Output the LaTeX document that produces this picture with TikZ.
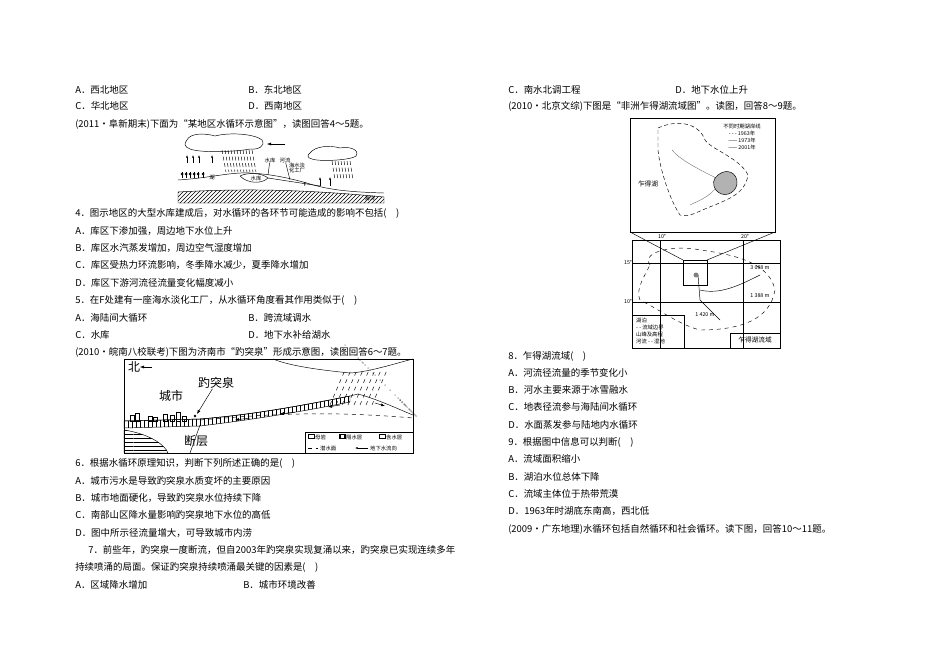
\documentclass[tikz,border=0pt]{standalone}
\usepackage{fontspec}
\setmainfont{Noto Sans CJK SC}
\usetikzlibrary{patterns,arrows.meta}
\begin{document}
\begin{tikzpicture}[x=0.75pt,y=-0.75pt,
 txt/.style={anchor=west,inner sep=0pt,font=\fontsize{7.1}{8}\selectfont},
 sm/.style={inner sep=0pt,font=\fontsize{4}{5}\selectfont},
 md/.style={inner sep=0pt,font=\fontsize{9}{10}\selectfont},
 fr/.style={draw,line width=0.6pt},
 thin/.style={line width=0.35pt}]
\useasboundingbox (0,0) rectangle (950,671);
\fill[white] (0,0) rectangle (950,671);
% left column
\node[txt] (l1a) at (75,90) {A．西北地区};
\node[txt] (l1b) at (248,90) {B．东北地区};
\node[txt] (l2a) at (75,106) {C．华北地区};
\node[txt] (l2b) at (248,106) {D．西南地区};
\node[txt] (l3) at (75,124) {(2011·阜新期末)下面为“某地区水循环示意图”，读图回答4～5题。};
\node[txt] (l4) at (75,213) {4．图示地区的大型水库建成后，对水循环的各环节可能造成的影响不包括(\quad)};
\node[txt] (l5) at (75,231) {A．库区下渗加强，周边地下水位上升};
\node[txt] (l6) at (75,248) {B．库区水汽蒸发增加，周边空气湿度增加};
\node[txt] (l7) at (75,265) {C．库区受热力环流影响，冬季降水减少，夏季降水增加};
\node[txt] (l8) at (75,283) {D．库区下游河流径流量变化幅度减小};
\node[txt] (l9) at (75,300) {5．在F处建有一座海水淡化工厂，从水循环角度看其作用类似于(\quad)};
\node[txt] (l10a) at (75,318) {A．海陆间大循环};
\node[txt] (l10b) at (248,318) {B．跨流域调水};
\node[txt] (l11a) at (75,335) {C．水库};
\node[txt] (l11b) at (248,335) {D．地下水补给湖水};
\node[txt] (l12) at (75,352) {(2010·皖南八校联考)下图为济南市“趵突泉”形成示意图，读图回答6～7题。};
\node[txt] (l13) at (75,463) {6．根据水循环原理知识，判断下列所述正确的是(\quad)};
\node[txt] (l14) at (75,481) {A．城市污水是导致趵突泉水质变坏的主要原因};
\node[txt] (l15) at (75,498) {B．城市地面硬化，导致趵突泉水位持续下降};
\node[txt] (l16) at (75,515) {C．南部山区降水量影响趵突泉地下水位的高低};
\node[txt] (l17) at (75,533) {D．图中所示径流量增大，可导致城市内涝};
\node[txt] (l18) at (88,550) {7．前些年，趵突泉一度断流，但自2003年趵突泉实现复涌以来，趵突泉已实现连续多年};
\node[txt] (l19) at (75,567) {持续喷涌的局面。保证趵突泉持续喷涌最关键的因素是(\quad)};
\node[txt] (l20a) at (75,585) {A．区域降水增加};
\node[txt] (l20b) at (243,585) {B．城市环境改善};
% right column
\node[txt] (r1a) at (508,90) {C．南水北调工程};
\node[txt] (r1b) at (675,90) {D．地下水位上升};
\node[txt] (r2) at (508,106) {(2010·北京文综)下图是“非洲乍得湖流域图”。读图，回答8～9题。};
\node[txt] (r3) at (508,356) {8．乍得湖流域(\quad)};
\node[txt] (r4) at (508,373) {A．河流径流量的季节变化小};
\node[txt] (r5) at (508,390) {B．河水主要来源于冰雪融水};
\node[txt] (r6) at (508,407) {C．地表径流参与海陆间水循环};
\node[txt] (r7) at (508,425) {D．水面蒸发参与陆地内水循环};
\node[txt] (r8) at (508,442) {9．根据图中信息可以判断(\quad)};
\node[txt] (r9) at (508,459) {A．流域面积缩小};
\node[txt] (r10) at (508,477) {B．湖泊水位总体下降};
\node[txt] (r11) at (508,494) {C．流域主体位于热带荒漠};
\node[txt] (r12) at (508,511) {D．1963年时湖底东南高，西北低};
\node[txt] (r13) at (508,529) {(2009·广东地理)水循环包括自然循环和社会循环。读下图，回答10～11题。};
% ---------- figure 1 ----------
\begin{scope}[thin]
\draw (187,140) .. controls (190,133) and (205,133) .. (215,136) .. controls (230,132) and (255,134) .. (262,140) .. controls (266,146) and (258,150) .. (250,149) .. controls (235,152) and (200,153) .. (190,149) .. controls (184,147) and (184,143) .. (187,140);
\draw (310,153) .. controls (315,146) and (330,145) .. (340,148) .. controls (350,146) and (360,150) .. (356,156) .. controls (352,160) and (320,162) .. (312,159) .. controls (307,158) and (307,155) .. (310,153);
\foreach \i in {0,...,10} {\draw[densely dashed] (222+\i*3,150) -- (226+\i*3,172);}
\foreach \i in {0,...,6} {\draw[densely dashed] (332+\i*3,161) -- (335+\i*3,180);}
\draw[-{Latex[length=3pt]}] (285,144) -- (267,144);
\foreach \xx in {187,193,199,212} {\draw[-{Latex[length=2pt]}] (\xx,163) -- (\xx,155);}
\foreach \xx in {320,330} {\draw[-{Latex[length=2pt]}] (\xx,186) -- (\xx,177);}
\foreach \xx in {182,186,190,194,198,203} {\draw (\xx,178) -- (\xx,172);\fill (\xx,174) circle (1.5);}
\draw (178,180) .. controls (210,178) and (230,172) .. (250,173) .. controls (270,174) and (290,178) .. (310,184) .. controls (330,190) and (350,192) .. (384,193);
\draw (240,176) .. controls (248,172) and (262,173) .. (268,178) .. controls (262,184) and (248,184) .. (240,176);
\draw[pattern=north east lines] (178,192) .. controls (250,188) and (310,190) .. (384,197) -- (384,203) -- (178,203) -- cycle;
\draw (268,178) -- (320,186);
\node[sm] (f1a) at (256,178) {水库};
\node[sm] (f1b) at (270,160) {水库};
\node[sm] (f1c) at (285,160) {河流};
\node[sm] (f1d) at (297,165) {海水淡};
\node[sm] (f1e) at (297,170) {化工厂};
\node[sm] (f1f) at (305,185) {F};
\node[sm] (f1g) at (212,178) {湖};
\node[sm] (f1h) at (370,198) {海洋};
\draw (f1b) -- (268,175);
\draw (f1c) -- (290,180);
\end{scope}
% ---------- figure 2 ----------
\begin{scope}[thin]
\draw[fr] (124,359) rectangle (413,453);
\node[md] (n2) at (134,367) {北};
\draw[-{Latex[length=3pt]}] (152,367) -- (140,367);
\draw (273,359) .. controls (290,366) and (320,370) .. (350,373) .. controls (370,372) and (400,362) .. (413,359);
\foreach \i in {0,...,7} {\draw[dashed] (330+\i*6,405) -- (345+\i*6,370);}
\draw (124,421) -- (200,419) .. controls (250,415) and (300,406) .. (350,396) -- (358,394) .. controls (380,400) and (400,410) .. (413,415);
\foreach \px/\py in {345,402, 350,400, 355,398, 360,400, 365,402, 352,405, 358,404, 363,406, 370,404, 375,407, 380,409, 368,409, 385,411, 390,413, 395,414, 400,415, 405,416, 373,412, 362,410} {\fill (\px,\py) circle (0.5);}
\draw[pattern=vertical lines] (124,421) -- (200,419) .. controls (250,415) and (300,406) .. (350,396) -- (350,402) .. controls (300,412) and (250,420) .. (200,426) -- (124,428) -- cycle;
\draw[dashed] (200,420) .. controls (260,415) and (320,410) .. (413,418);
\foreach \xx/\hh in {130/6,135/8,148/5,153/4,163/7,170/6,176/9,182/5} {\draw (\xx,421) rectangle +(4,-\hh);}
\fill (195,416) circle (1.3);
\node[md] (city) at (171,396) {城市};
\node[md] (spr) at (216,383) {趵突泉};
\draw[-{Latex[length=3pt]}] (spr) -- (197,414);
\draw[pattern=horizontal lines] (124,430) .. controls (150,434) and (165,445) .. (168,453) -- (124,453) -- cycle;
\draw (190,453) -- (200,425);
\node[md] (fault) at (196,441) {断层};
\draw[-{Latex[length=3pt]}] (250,418) -- (235,420);
\draw[-{Latex[length=3pt]}] (295,412) -- (280,414);
\draw[-{Latex[length=3pt]}] (340,405) -- (328,407);
\draw[-{Latex[length=3pt]}] (375,403) -- (385,406);
\draw (305,432) rectangle (413,453);
\draw[pattern=horizontal lines] (308,434.5) rectangle +(6,4);
\draw[pattern=vertical lines] (339,434.5) rectangle +(6,4);
\draw (379,434.5) rectangle +(6,4);
\node[sm,anchor=west] (lg1) at (315,437) {母岩};
\node[sm,anchor=west] (lg2) at (346,437) {隔水层};
\node[sm,anchor=west] (lg3) at (386,437) {含水层};
\draw[dashed] (308,448) -- (318,448);
\node[sm,anchor=west] (lg4) at (320,448) {潜水面};
\draw[-{Latex[length=2pt]}] (368,448) -- (355,448);
\node[sm,anchor=west] (lg5) at (370,448) {地下水流向};
\end{scope}
% ---------- figure 3 ----------
\begin{scope}[thin]
\draw[fr] (630,118) rectangle (775,232);
\node[sm] (lt) at (742,126) {不同时期湖岸线};
\node[sm] (y1) at (742,133) {- - - 1963年};
\node[sm] (y2) at (742,140) {—— 1973年};
\node[sm] (y3) at (742,147) {—— 2001年};
\node[sm,font=\fontsize{5}{6}\selectfont] (cl) at (648,184) {乍得湖};
\draw[densely dashed] (658,128) .. controls (680,118) and (700,125) .. (705,140) .. controls (712,150) and (740,158) .. (748,175) .. controls (745,195) and (725,200) .. (715,205) .. controls (700,210) and (690,218) .. (680,215) .. controls (670,200) and (660,170) .. (658,150) -- cycle;
\draw[gray] (672,150) .. controls (680,160) and (700,170) .. (720,180) .. controls (715,195) and (700,200) .. (690,205);
\fill[gray!60,draw=black] (718,175) .. controls (726,168) and (738,172) .. (737,184) .. controls (735,195) and (722,198) .. (716,190) .. controls (712,184) and (713,179) .. (718,175);
\draw[fr] (632,240) rectangle (780,348);
\node[sm] (d10) at (662,236) {10°};
\node[sm] (d20) at (745,236) {20°};
\node[sm] (d15) at (628,262) {15°};
\node[sm] (d10b) at (628,301) {10°};
\draw (660,240) -- (660,348);
\draw (743,240) -- (743,348);
\draw (632,263) -- (780,263);
\draw (632,302) -- (780,302);
\draw (683,260) rectangle (707,285);
\draw (683,260) -- (630,232);
\draw (707,260) -- (775,232);
\draw[dashed] (650,265) .. controls (640,250) and (680,245) .. (700,250) .. controls (740,255) and (770,265) .. (775,290) .. controls (770,320) and (740,330) .. (700,330) .. controls (680,325) and (660,310) .. (640,300) .. controls (635,290) and (645,275) .. (650,265);
\draw (698,275) -- (700,300) -- (720,320);
\draw (700,290) .. controls (720,295) and (740,285) .. (760,275);
\fill[gray] (696,275) circle (2.5);
\node[sm] (m1) at (760,268) {3 088 m};
\node[sm] (m2) at (760,296) {1 388 m};
\node[sm] (m3) at (705,315) {1 420 m};
\draw (632,315) rectangle (684,348);
\node[sm,anchor=west] (k1) at (636,320) {湖泊};
\node[sm,anchor=west] (k2) at (636,327) {- - 流域边界};
\node[sm,anchor=west] (k3) at (636,334) {山峰及高程};
\node[sm,anchor=west] (k4) at (636,341) {河流 - - 湿地};
\draw (730,333) rectangle (780,348);
\node[sm,font=\fontsize{5}{6}\selectfont] (k5) at (755,340) {乍得湖流域};
\end{scope}
\end{tikzpicture}
\end{document}
